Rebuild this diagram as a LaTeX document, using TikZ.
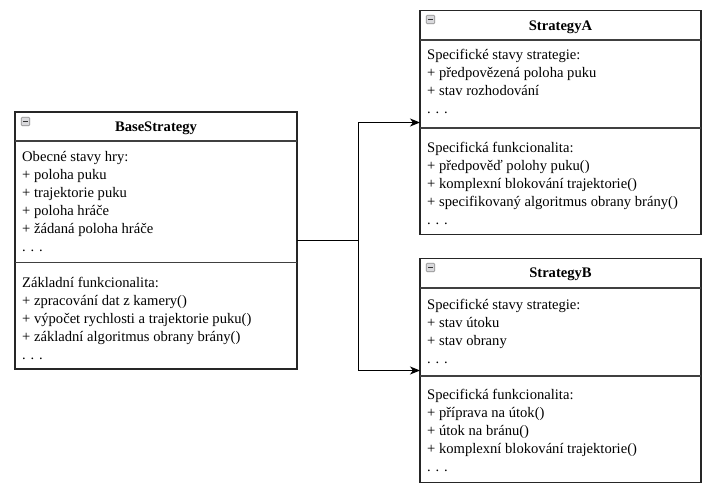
\documentclass[tikz,border=0pt]{standalone}
\usepackage{fontspec}
\setmainfont{Liberation Serif}
\usetikzlibrary{arrows.meta}
\begin{document}
\begin{tikzpicture}[x=1pt,y=-1pt,
  classbox/.style={draw=black!85,line width=1.2pt,fill=white,anchor=north west,inner sep=0pt,outer sep=0pt},
  sepline/.style={draw=black!75,line width=1.2pt},
  title/.style={font=\fontsize{14.6}{16}\selectfont\bfseries,inner sep=0pt},
  body/.style={font=\fontsize{14.6}{18}\selectfont,align=left,anchor=north west,inner sep=0pt},
  icon/.style={draw=black!45,fill=blue!8!black!15,rounded corners=1pt,line width=0.6pt,minimum size=8.5pt,inner sep=0pt},
  conn/.style={draw=black,line width=1pt},
  arr/.style={conn,-{Stealth[length=10pt,width=8pt,inset=3pt]}}
]
\useasboundingbox (0,0) rectangle (716,493);
% BaseStrategy
\node[classbox,minimum width=282pt,minimum height=257pt] (base) at (15,112) {};
\node[icon] (baseicon) at (25.5,121.5) {};
\draw[line width=1pt,black!80] ([xshift=-2.5pt]baseicon.center) -- ([xshift=2.5pt]baseicon.center);
\node[title] (basetitle) at (156,128.5) {BaseStrategy};
\draw[sepline] (15,141) -- (297,141);
\draw[sepline] (15,262.5) -- (297,262.5);
\node[body] (baseattr) at (22,149) {\strut Obecné stavy hry:\\+ poloha puku\\+ trajektorie puku\\+ poloha hráče\\+ žádaná poloha hráče\\. . .};
\node[body] (baseops) at (22,275) {\strut Základní funkcionalita:\\+ zpracování dat z kamery()\\+ výpočet rychlosti a trajektorie puku()\\+ základní algoritmus obrany brány()\\. . .};
% StrategyA
\node[classbox,minimum width=281pt,minimum height=224pt] (stratA) at (420,10.5) {};
\node[icon] (aicon) at (430.5,19.5) {};
\draw[line width=1pt,black!80] ([xshift=-2.5pt]aicon.center) -- ([xshift=2.5pt]aicon.center);
\node[title] (atitle) at (560.5,27) {StrategyA};
\draw[sepline] (420,40) -- (701,40);
\draw[sepline] (420,128) -- (701,128);
\node[body] (aattr) at (427,47) {\strut Specifické stavy strategie:\\+ předpovězená poloha puku\\+ stav rozhodování\\. . .};
\node[body] (aops) at (427,140) {\strut Specifická funkcionalita:\\+ předpověď polohy puku()\\+ komplexní blokování trajektorie()\\+ specifikovaný algoritmus obrany brány()\\. . .};
% StrategyB
\node[classbox,minimum width=281pt,minimum height=224pt] (stratB) at (420,258.5) {};
\node[icon] (bicon) at (430.5,267.5) {};
\draw[line width=1pt,black!80] ([xshift=-2.5pt]bicon.center) -- ([xshift=2.5pt]bicon.center);
\node[title] (btitle) at (560.5,274) {StrategyB};
\draw[sepline] (420,288) -- (701,288);
\draw[sepline] (420,376) -- (701,376);
\node[body] (battr) at (427,297) {\strut Specifické stavy strategie:\\+ stav útoku\\+ stav obrany\\. . .};
\node[body] (bops) at (427,387) {\strut Specifická funkcionalita:\\+ příprava na útok()\\+ útok na bránu()\\+ komplexní blokování trajektorie()\\. . .};
% connectors
\draw[conn] (base.east) -- ++(61,0) coordinate (mid);
\draw[arr] (mid) |- (stratA.west);
\draw[arr] (mid) |- (stratB.west);
\end{tikzpicture}
\end{document}
